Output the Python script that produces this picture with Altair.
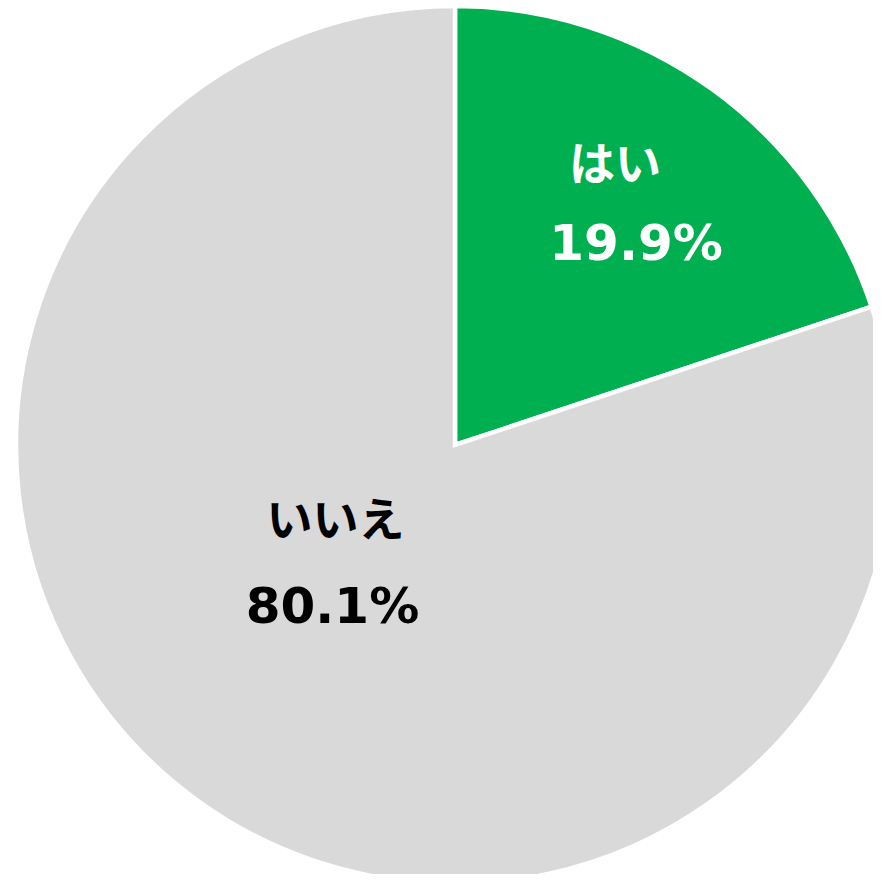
import altair as alt
import pandas as pd

categories = ["はい", "いいえ"]
values = [19.9, 80.1]
pct_labels = ["19.9%", "80.1%"]
colors = ["#00B050", "#D9D9D9"]
text_colors = ["white", "black"]

df = pd.DataFrame({
    "category": categories,
    "value": values,
    "pct": pct_labels,
    "order": list(range(len(categories))),
})

CX, CY, R = 447, 437, 439
FONT = "DejaVu Sans, Noto Sans CJK JP"

base = alt.Chart(df).transform_window(
    cum="sum(value)", sort=[alt.SortField("order")]
).transform_calculate(mid="datum.cum - datum.value / 2")

pie = alt.Chart(df).mark_arc(
    outerRadius=R, stroke="white", strokeWidth=4.5
).encode(
    theta=alt.Theta("value:Q", stack=True),
    color=alt.Color("category:N", scale=alt.Scale(domain=categories, range=colors), legend=None),
    order=alt.Order("order:Q"),
    x=alt.value(CX),
    y=alt.value(CY),
)

theta_scale = alt.Scale(domain=[0, 100], range=[0, 6.283185307179586])


def label(cat, field, radius, dx, dy, color, size):
    return base.transform_filter(alt.datum.category == cat).mark_text(
        font=FONT, fontSize=size, fontWeight="bold", align="center", baseline="middle",
        dx=dx, dy=dy, color=color,
    ).encode(
        theta=alt.Theta("mid:Q", scale=theta_scale),
        radius=alt.value(radius),
        text=alt.Text(f"{field}:N"),
        x=alt.value(CX),
        y=alt.value(CY),
    )


layers = [
    pie,
    label(categories[0], "category", 294, -12, -41, text_colors[0], 46),
    label(categories[0], "pct", 294, 9, 38, text_colors[0], 50),
    label(categories[1], "category", 170, -20, -61, text_colors[1], 46),
    label(categories[1], "pct", 170, -23, 25, text_colors[1], 50),
]

chart = alt.layer(*layers).properties(
    width=865, height=866, padding=0, autosize=alt.AutoSizeParams(type="none")
).configure_view(stroke=None)

chart.save("out.html", embed_options={"renderer": "svg", "actions": False})
